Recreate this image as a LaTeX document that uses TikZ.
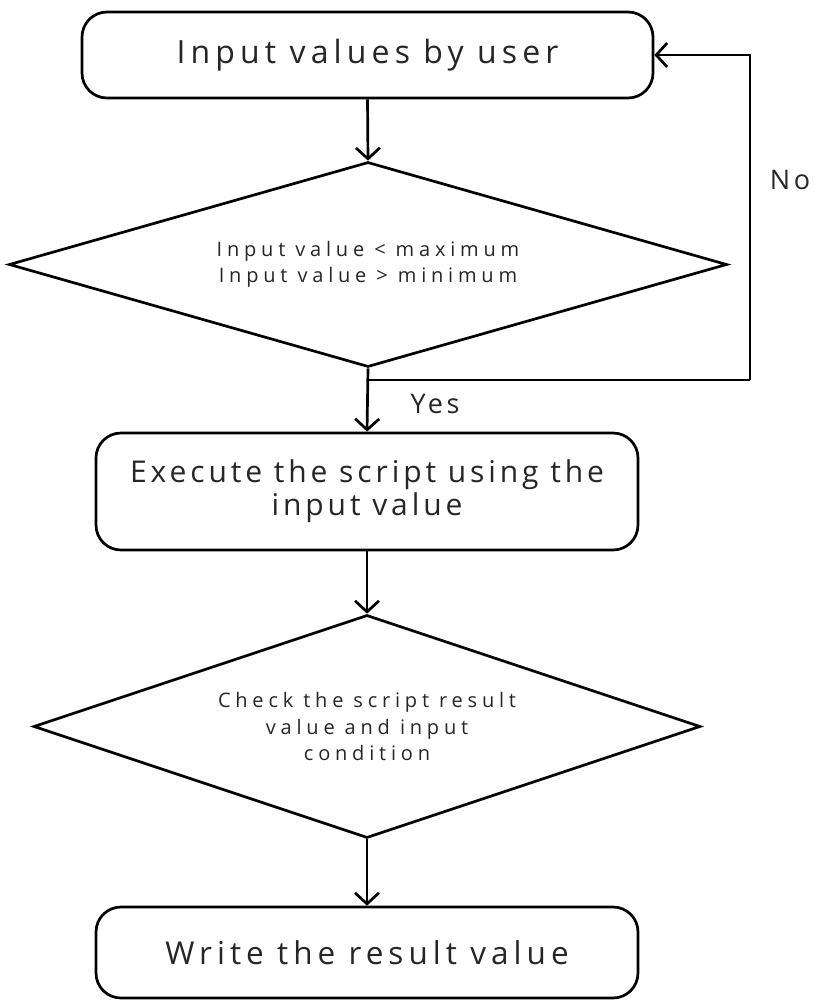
\documentclass[tikz,border=0pt]{standalone}
\usepackage{fontspec}
\setmainfont{Open Sans}
\newfontfamily\boxfontA{Open Sans}[LetterSpace=16]
\newfontfamily\boxfontB{Open Sans}[LetterSpace=13]
\newfontfamily\diafont{Open Sans}[LetterSpace=24]
\usetikzlibrary{arrows.meta,shapes.geometric}
\tikzset{
  procbox/.style={draw, line width=2.7pt, rounded corners=25pt, inner sep=0pt, align=center, text=black!85},
  decision/.style={draw, diamond, line width=2.7pt, inner sep=0pt, aspect=3.5, align=center,
    font=\diafont\fontsize{20}{26.5}\selectfont, text=black!85},
  conn/.style={line width=2.7pt, -{Straight Barb[length=11pt,width=24pt,line width=2.7pt]}},
  plainline/.style={line width=2.7pt},
  lbl/.style={font=\boxfontB\fontsize{27}{30}\selectfont, text=black!85, inner sep=0pt}
}
\begin{document}
\begin{tikzpicture}[x=1pt,y=-1pt]
\useasboundingbox (0,0) rectangle (815,1002);
\node[procbox, minimum width=571pt, minimum height=86pt, font=\boxfontA\fontsize{32}{33}\selectfont] (b1) at (367.5,55) {Input values by user};
\node[decision, minimum width=718pt, minimum height=205pt] (d1) at (368,264.5) {Input value < maximum\\Input value > minimum};
\node[procbox, minimum width=542pt, minimum height=117pt, font=\boxfontB\fontsize{30}{33}\selectfont] (b2) at (367,491.5) {Execute the script using the\\input value};
\node[decision, minimum width=667pt, minimum height=223pt] (d2) at (367,726.5) {Check the script result\\value and input\\condition};
\node[procbox, minimum width=542pt, minimum height=91pt, font=\boxfontA\fontsize{31.5}{33}\selectfont] (b3) at (367,952.5) {Write the result value};
\coordinate (j) at (368,380);
\coordinate (c) at (750,380);
\draw[conn] (b1.south) -- (d1.north);
\draw[conn] (d1.south) -- (b2.north);
\draw[plainline] (j) -- (c);
\draw[conn] (c) |- (b1.east);
\draw[conn] (b2.south) -- (d2.north);
\draw[conn] (d2.south) -- (b3.north);
\node[lbl] (yes) at (435,404) {Yes};
\node[lbl] (no) at (790,180) {No};
\end{tikzpicture}
\end{document}
